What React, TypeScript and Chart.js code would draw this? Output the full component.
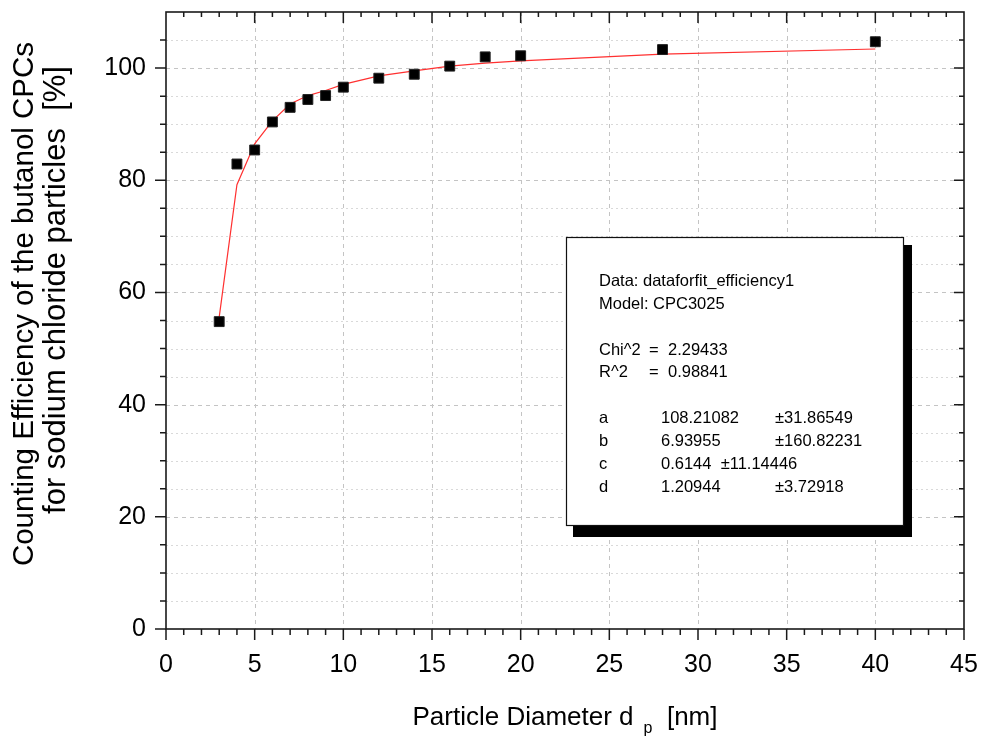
import React, { useEffect, useRef } from 'react';
import { Chart, registerables } from 'chart.js';

Chart.register(...registerables);

// ---- data ----
const diameters = [3, 4, 5, 6, 7, 8, 9, 10, 12, 14, 16, 18, 20, 28, 40];
const efficiency = [54.8, 82.9, 85.4, 90.4, 93.0, 94.4, 95.1, 96.6, 98.2, 98.9, 100.35, 102.0, 102.2, 103.3, 104.7];
const fitEfficiency = [55.6, 79.2, 86.5, 90.6, 93.6, 95.1, 96.0, 97.1, 98.6, 99.5, 100.35, 100.9, 101.3, 102.5, 103.4];

const xTickValues = [0, 5, 10, 15, 20, 25, 30, 35, 40, 45];
const yTickValues = [0, 20, 40, 60, 80, 100];

const xTitleMain = 'Particle Diameter d';
const xTitleSub = 'p';
const xTitleUnit = '  [nm]';
const yTitleLines = ['Counting Efficiency of the butanol CPCs', 'for sodium chloride particles  [%]'];

const fitInfoHeader = ['Data: dataforfit_efficiency1', 'Model: CPC3025'];
const fitStats = [
  ['Chi^2', '=', '2.29433'],
  ['R^2', '=', '0.98841'],
];
const fitParams = [
  ['a', '108.21082', '±31.86549'],
  ['b', '6.93955', '±160.82231'],
  ['c', '0.6144  ±11.14446', ''],
  ['d', '1.20944', '±3.72918'],
];

const FONT = '"Liberation Sans", Arial, sans-serif';

const decorPlugin = {
  id: 'decor',
  beforeDatasetsDraw(chart: any) {
    const { ctx, chartArea: a, scales } = chart;
    const xs = scales.x;
    const ys = scales.y;
    ctx.save();
    // horizontal grid
    for (let v = 5; v < 110; v += 5) {
      const y = Math.round(ys.getPixelForValue(v)) + 0.5;
      ctx.beginPath();
      if (v % 20 === 0) {
        ctx.strokeStyle = '#c4c4c4';
        ctx.setLineDash([4, 4]);
      } else {
        ctx.strokeStyle = '#d9d9d9';
        ctx.setLineDash([2, 3]);
      }
      ctx.lineWidth = 1;
      ctx.moveTo(a.left, y);
      ctx.lineTo(a.right, y);
      ctx.stroke();
    }
    // vertical grid
    for (let v = 5; v < 45; v += 5) {
      const x = Math.round(xs.getPixelForValue(v)) + 0.5;
      ctx.beginPath();
      ctx.strokeStyle = '#c4c4c4';
      ctx.setLineDash([4, 4]);
      ctx.lineWidth = 1;
      ctx.moveTo(x, a.top);
      ctx.lineTo(x, a.bottom);
      ctx.stroke();
    }
    ctx.restore();
  },
  afterDraw(chart: any) {
    const { ctx, chartArea: a, scales } = chart;
    const xs = scales.x;
    const ys = scales.y;
    ctx.save();
    ctx.setLineDash([]);
    ctx.strokeStyle = '#1a1a1a';
    ctx.lineWidth = 1.6;
    ctx.strokeRect(a.left, a.top, a.right - a.left, a.bottom - a.top);

    ctx.lineWidth = 1.5;
    ctx.beginPath();
    for (let v = 0; v <= 45; v += 1) {
      const x = xs.getPixelForValue(v);
      const major = v % 5 === 0;
      ctx.moveTo(x, a.bottom);
      ctx.lineTo(x, a.bottom + (major ? 11 : 6));
      if (v > 0 && v < 45) {
        ctx.moveTo(x, a.top);
        ctx.lineTo(x, a.top + (major ? 11 : 5));
      }
    }
    for (let v = 0; v < 110; v += 5) {
      const y = ys.getPixelForValue(v);
      const major = v % 20 === 0;
      ctx.moveTo(a.left, y);
      ctx.lineTo(a.left - (major ? 11 : 6), y);
      if (v > 0) {
        ctx.moveTo(a.right, y);
        ctx.lineTo(a.right - (major ? 10 : 5), y);
      }
    }
    ctx.stroke();

    // x axis title with subscript
    ctx.fillStyle = '#000';
    ctx.textBaseline = 'alphabetic';
    const mainFont = `26px ${FONT}`;
    const subFont = `16px ${FONT}`;
    ctx.font = mainFont;
    const w1 = ctx.measureText(xTitleMain).width;
    const w3 = ctx.measureText(xTitleUnit).width;
    ctx.font = subFont;
    const w2 = ctx.measureText(xTitleSub).width;
    const gap = 10;
    const total = w1 + gap + w2 + w3;
    let tx = (a.left + a.right) / 2 - total / 2;
    const baseY = 725;
    ctx.font = mainFont;
    ctx.textAlign = 'left';
    ctx.fillText(xTitleMain, tx, baseY);
    tx += w1 + gap;
    ctx.font = subFont;
    ctx.fillText(xTitleSub, tx, baseY + 8);
    tx += w2;
    ctx.font = mainFont;
    ctx.fillText(xTitleUnit, tx, baseY);

    // y title (rotated, two lines)
    ctx.textAlign = 'center';
    const yFonts = [29.5, 31];
    const yCenters = [304, 290];
    const yBaselines = [33, 65];
    yTitleLines.forEach((line, i) => {
      ctx.save();
      ctx.font = `${yFonts[i]}px ${FONT}`;
      ctx.translate(yBaselines[i], yCenters[i]);
      ctx.rotate(-Math.PI / 2);
      ctx.fillText(line, 0, 0);
      ctx.restore();
    });

    // fit information box
    const bx = 566, by = 237, bw = 337, bh = 288;
    ctx.fillStyle = '#000';
    ctx.fillRect(bx + 7, by + 8, bw + 2, bh + 4);
    ctx.fillStyle = '#fff';
    ctx.fillRect(bx, by, bw, bh);
    ctx.strokeStyle = '#111';
    ctx.lineWidth = 1.2;
    ctx.strokeRect(bx + 0.5, by + 0.5, bw, bh);

    ctx.fillStyle = '#000';
    ctx.textAlign = 'left';
    ctx.font = `16.5px ${FONT}`;
    const lh = 22.85;
    const base0 = 286;
    const c0 = bx + 33;
    ctx.fillText(fitInfoHeader[0], c0, base0);
    ctx.fillText(fitInfoHeader[1], c0, base0 + lh);
    fitStats.forEach((r, i) => {
      const yy = base0 + (3 + i) * lh;
      ctx.fillText(r[0], c0, yy);
      ctx.fillText(r[1], bx + 83, yy);
      ctx.fillText(r[2], bx + 102, yy);
    });
    fitParams.forEach((r, i) => {
      const yy = base0 + (6 + i) * lh;
      ctx.fillText(r[0], c0, yy);
      ctx.fillText(r[1], bx + 95, yy);
      if (r[2]) ctx.fillText(r[2], bx + 209, yy);
    });
    ctx.restore();
  },
};

export default function App() {
  const ref = useRef<HTMLCanvasElement | null>(null);
  useEffect(() => {
    if (!ref.current) return;
    const chart = new Chart(ref.current, {
      type: 'scatter',
      data: {
        datasets: [
          {
            label: 'Measured',
            data: diameters.map((d, i) => ({ x: d, y: efficiency[i] })),
            pointStyle: 'rect',
            pointRadius: 7,
            backgroundColor: '#000',
            borderColor: '#222',
            borderWidth: 1,
            showLine: false,
          },
          {
            label: 'Fit',
            data: diameters.map((d, i) => ({ x: d, y: fitEfficiency[i] })),
            showLine: true,
            pointRadius: 0,
            borderColor: '#ff3030',
            borderWidth: 1.2,
            tension: 0,
            fill: false,
          },
        ],
      },
      options: {
        responsive: false,
        animation: false,
        layout: { padding: { left: 0, right: 20, top: 12, bottom: 0 } },
        plugins: { legend: { display: false }, tooltip: { enabled: false } },
        scales: {
          x: {
            type: 'linear',
            min: 0,
            max: 45,
            afterBuildTicks: (s: any) => {
              s.ticks = xTickValues.map((v) => ({ value: v }));
            },
            afterFit: (s: any) => {
              s.height = 108;
              s.paddingLeft = 0;
              s.paddingRight = 0;
              s.paddingTop = 0;
              s.paddingBottom = 0;
            },
            ticks: { font: { family: FONT, size: 25 }, color: '#000', padding: 21, maxRotation: 0 },
            grid: { display: false, drawTicks: false },
            border: { display: false },
          },
          y: {
            type: 'linear',
            min: 0,
            max: 110,
            afterBuildTicks: (s: any) => {
              s.ticks = yTickValues.map((v) => ({ value: v }));
            },
            afterFit: (s: any) => {
              s.width = 166;
              s.paddingLeft = 0;
              s.paddingRight = 0;
              s.paddingTop = 0;
              s.paddingBottom = 0;
            },
            ticks: { font: { family: FONT, size: 25 }, color: '#000', padding: 20 },
            grid: { display: false, drawTicks: false },
            border: { display: false },
          },
        },
      },
      plugins: [decorPlugin],
    });
    return () => chart.destroy();
  }, []);
  return (
    <div style={{ position: 'absolute', left: 0, top: 0, width: 984, height: 737, background: '#fff' }}>
      <canvas ref={ref} width={984} height={737} style={{ display: 'block' }} />
    </div>
  );
}
